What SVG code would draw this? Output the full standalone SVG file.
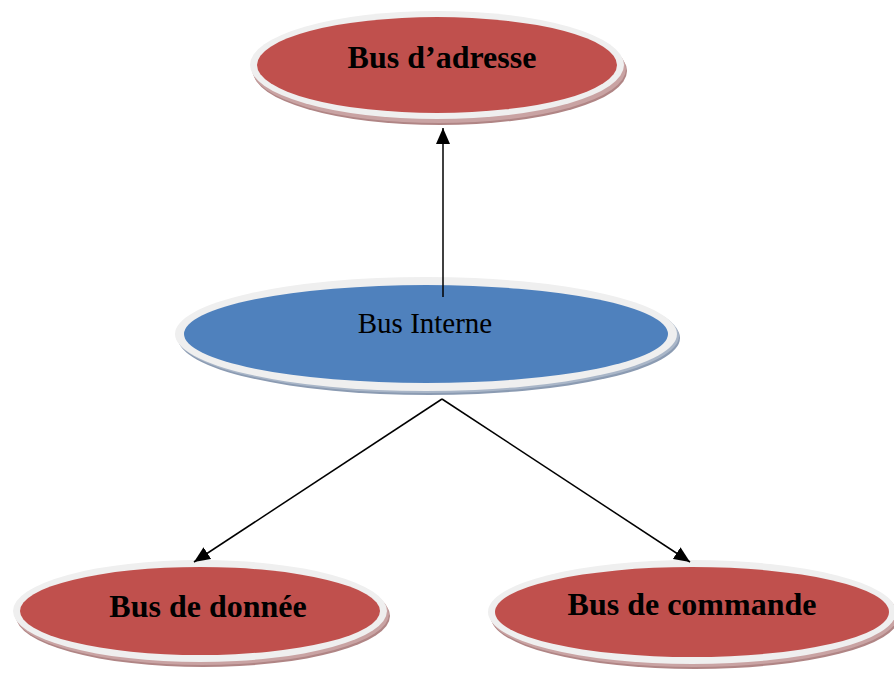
<svg xmlns="http://www.w3.org/2000/svg" width="894" height="673" viewBox="0 0 894 673">
  <defs>
    <style>
      .rim { fill: #efefef; }
      .red { fill: #c0504d; }
      .blue { fill: #4f81bd; }
      .shadow-red { fill: #b08585; }
      .shadow-red2 { fill: #c9a3a3; }
      .shadow-blue { fill: #8b9bb2; }
      .shadow-blue2 { fill: #a9b6c8; }
      .label { font-family: "Liberation Serif", "Times New Roman", serif; fill: #000; text-anchor: middle; }
      .bold { font-weight: bold; font-size: 32px; }
      .plain { font-size: 29px; }
      .link { stroke: #000; stroke-width: 1.5; fill: none; marker-end: url(#arrow); }
    </style>
    <!-- filled arrowhead, tip sits exactly on the line end -->
    <marker id="arrow" viewBox="0 0 16 14" refX="16" refY="7" markerWidth="16" markerHeight="14" markerUnits="userSpaceOnUse" orient="auto">
      <path d="M0,0 L16,7 L0,14 z" fill="#000" />
    </marker>
  </defs>

  <rect width="894" height="673" fill="#fff" />

  <g id="bus-adresse">
    <ellipse class="shadow-red" cx="440" cy="71" rx="187" ry="54" />
    <ellipse class="shadow-red2" cx="439" cy="69" rx="187" ry="54" />
    <ellipse class="rim" cx="437" cy="65" rx="187" ry="54" />
    <ellipse class="red" cx="437" cy="65" rx="180" ry="48" />
    <text class="label bold" x="442" y="68">Bus d’adresse</text>
  </g>

  <g id="bus-interne">
    <ellipse class="shadow-blue" cx="429" cy="338" rx="251" ry="57" />
    <ellipse class="shadow-blue2" cx="428" cy="336" rx="251" ry="57" />
    <ellipse class="rim" cx="426" cy="334" rx="251" ry="57" />
    <ellipse class="blue" cx="426" cy="334" rx="242" ry="49" />
    <text class="label plain" x="425" y="333">Bus Interne</text>
  </g>

  <g id="bus-donnee">
    <ellipse class="shadow-red" cx="203" cy="616" rx="187" ry="51" />
    <ellipse class="shadow-red2" cx="202" cy="614" rx="187" ry="51" />
    <ellipse class="rim" cx="200" cy="611" rx="187" ry="51" />
    <ellipse class="red" cx="200" cy="611" rx="180" ry="44" />
    <text class="label bold" x="208" y="617">Bus de donnée</text>
  </g>

  <g id="bus-commande">
    <ellipse class="shadow-red" cx="695" cy="617" rx="204" ry="52" />
    <ellipse class="shadow-red2" cx="694" cy="615" rx="204" ry="52" />
    <ellipse class="rim" cx="692" cy="612" rx="204" ry="52" />
    <ellipse class="red" cx="692" cy="612" rx="197" ry="45" />
    <text class="label bold" x="692" y="615">Bus de commande</text>
  </g>

  <g id="connectors">
    <line class="link" x1="443" y1="297" x2="443" y2="128" />
    <line class="link" x1="442" y1="399" x2="194" y2="562" />
    <line class="link" x1="442" y1="399" x2="690" y2="562" />
  </g>
</svg>
